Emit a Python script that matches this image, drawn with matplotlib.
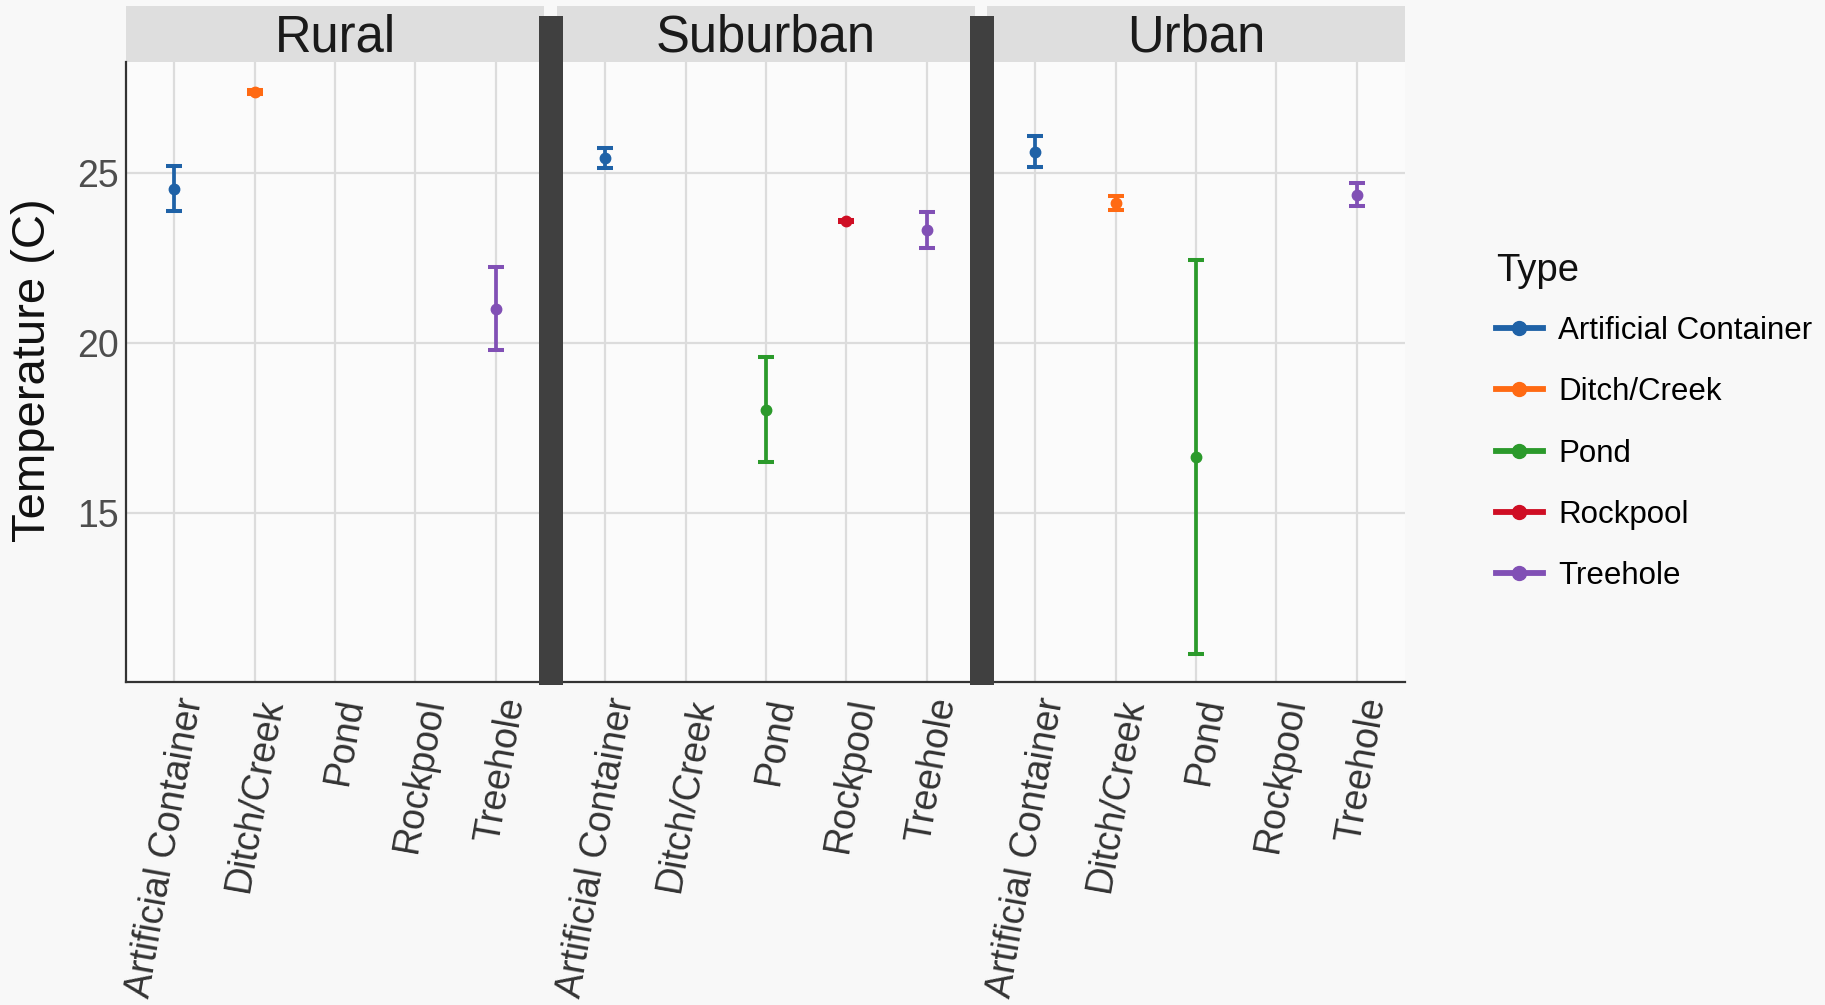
import numpy as np
import matplotlib
matplotlib.use("Agg")
import matplotlib.pyplot as plt
from matplotlib.patches import Rectangle
from matplotlib.lines import Line2D

plt.rcParams['font.family'] = ['Liberation Sans', 'DejaVu Sans']

# mean water temperature (C) and standard error per habitat type, by site
sites = ["Rural", "Suburban", "Urban"]
types = ["Artificial Container", "Ditch/Creek", "Pond", "Rockpool", "Treehole"]
nan = np.nan
rural_mean = [24.52, 27.36, nan, nan, 21.00]
rural_se = [0.66, 0.06, nan, nan, 1.22]
suburban_mean = [25.42, nan, 18.03, 23.59, 23.32]
suburban_se = [0.29, nan, 1.54, 0.03, 0.53]
urban_mean = [25.61, 24.10, 16.64, nan, 24.35]
urban_se = [0.45, 0.20, 5.78, nan, 0.34]

means = [rural_mean, suburban_mean, urban_mean]
ses = [rural_se, suburban_se, urban_se]
colors = ["#1f62a7", "#ff6a13", "#2b9a2b", "#cf0e24", "#8150b5"]

fig = plt.figure(figsize=(18.25, 10.05), dpi=100, facecolor="#f8f8f8")

# y range: data extent padded by 5% on each side
lo = np.nanmin([np.nanmin(np.array(m) - np.array(s)) for m, s in zip(means, ses)])
hi = np.nanmax([np.nanmax(np.array(m) + np.array(s)) for m, s in zip(means, ses)])
pad = 0.05 * (hi - lo)

W, H = 1825, 1005
panel_x = [126, 557, 987]
panel_w = 418
top, bottom = 62, 682
strip_h = 56

x = np.arange(len(types))
axes = []
for k, site in enumerate(sites):
    ax = fig.add_axes([panel_x[k] / W, 1 - bottom / H, panel_w / W, (bottom - top) / H])
    ax.set_facecolor("#fbfbfb")
    for i, t in enumerate(types):
        m, s = means[k][i], ses[k][i]
        if np.isnan(m):
            continue
        ax.errorbar(x[i], m, yerr=s, fmt="o", color=colors[i], ms=7.5, lw=2.7,
                    capsize=6, capthick=2.9, zorder=3)
    ax.set_xlim(-0.6, len(types) - 0.4)
    ax.set_ylim(lo - pad, hi + pad)
    ax.set_xticks(x)
    ax.set_xticklabels(types, fontsize=27, color="#333333")
    ax.set_yticks([15, 20, 25])
    ax.grid(True, color="#dcdcdc", lw=1.6)
    ax.set_axisbelow(True)
    ax.tick_params(length=0, pad=9.5)
    ax.tick_params(axis="y", labelsize=27, labelcolor="#4d4d4d", pad=5)
    plt.setp(ax.get_xticklabels(), rotation=80, ha="right", va="top",
             rotation_mode="anchor")
    for side in ["top", "right"]:
        ax.spines[side].set_visible(False)
    ax.spines["bottom"].set_color("#333333")
    ax.spines["bottom"].set_linewidth(1.6)
    if k == 0:
        ax.spines["left"].set_color("#333333")
        ax.spines["left"].set_linewidth(1.6)
    else:
        ax.spines["left"].set_visible(False)
        ax.set_yticklabels([])

    # facet strip
    sh = strip_h / (bottom - top)
    ax.add_patch(Rectangle((0, 1), 1, sh, transform=ax.transAxes,
                           facecolor="#dedede", edgecolor="none", clip_on=False))
    ax.text(0.5, 1 + (strip_h / 2 - 4) / (bottom - top), site,
            transform=ax.transAxes, ha="center", va="center", fontsize=36.5,
            color="#1a1a1a")
    axes.append(ax)

# thick dark separators between the panels
for bx in [539, 970]:
    fig.add_artist(Rectangle((bx / W, 1 - 685 / H), 24 / W, 669 / H,
                             transform=fig.transFigure, facecolor="#404040",
                             edgecolor="none", zorder=10))

fig.text(33 / W, 1 - 370 / H, "Temperature (C)", rotation=90, ha="center",
         va="center", fontsize=34, color="#111111")

# legend: title placed on its own, entries below
fig.text(1496 / W, 1 - 271 / H, "Type", ha="left", va="center",
         fontsize=27.5, color="#111111")
handles = [Line2D([0], [0], color=c, lw=4.2, marker="o", ms=10) for c in colors]
leg = fig.legend(handles, types, loc="upper left",
                 bbox_to_anchor=(1496 / W, 1 - 316 / H), frameon=False,
                 fontsize=22.5, handlelength=1.5, handletextpad=0.5,
                 labelspacing=1.0, borderpad=0, borderaxespad=0)

fig.savefig("out.png", dpi=100, facecolor=fig.get_facecolor())
